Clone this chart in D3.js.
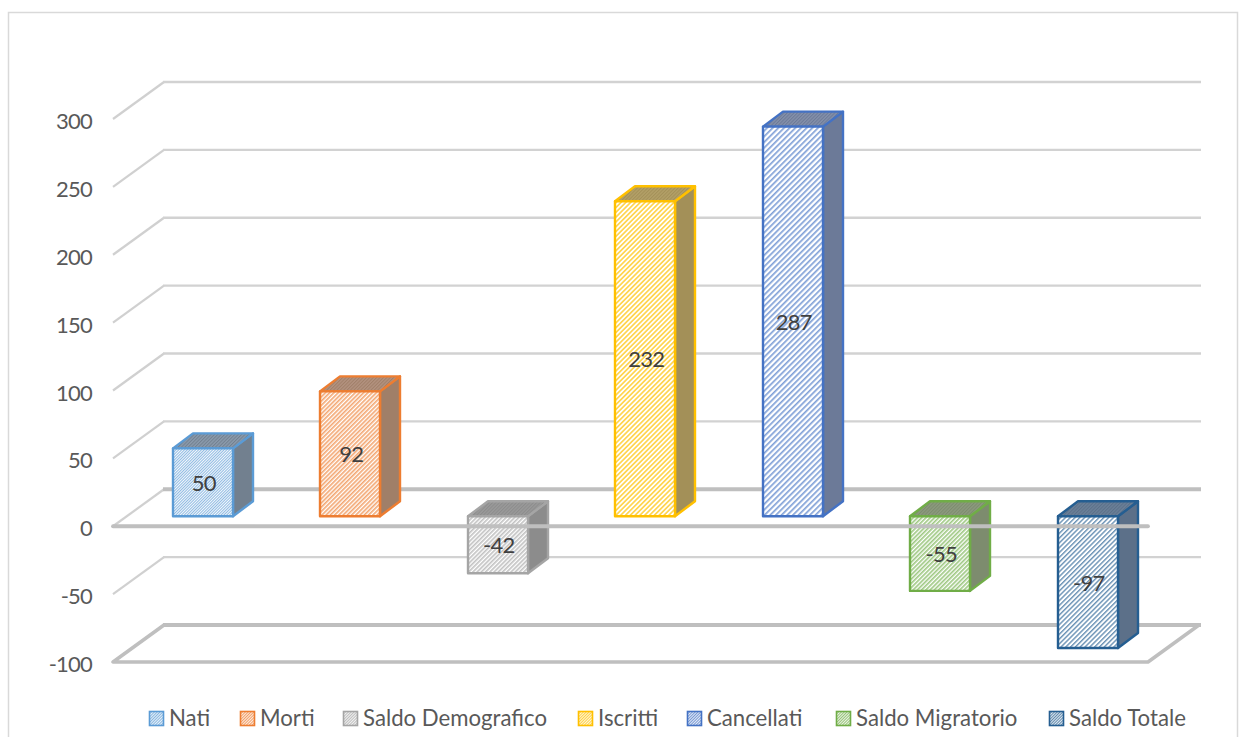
<!DOCTYPE html>
<html><head><meta charset="utf-8">
<script src="https://cdn.jsdelivr.net/npm/d3@7"></script>
<style>html,body{margin:0;padding:0;background:#fff;overflow:hidden}svg{display:block}text{font-family:Lato,"Noto Sans",sans-serif}</style>
</head><body><svg id="c" width="1248" height="737"></svg>
<script>
const categories=["Nati","Morti","Saldo Demografico","Iscritti","Cancellati","Saldo Migratorio","Saldo Totale"];
const values=[50,92,-42,232,287,-55,-97];
const colors=["#5b9bd5","#ed7d31","#a5a5a5","#ffc000","#4472c4","#70ad47","#255e91"];
const sideColors=["#72808f","#a07f68","#8c8c8c","#a39058","#6c7a98","#7d8c6e","#5c7089"];
const topColors=["#8b9bad","#b39280","#9a9a9a","#b3a068","#8490aa","#8c9a7e","#6a8098"];
const hatchPeriods=[2,3,3,3.4,4,3,3.4];
const hatchDuty=[.55,.55,.55,.5,.42,.55,.42];
const ticks=[-100,-50,0,50,100,150,200,250,300];
const legendX=[149,240,343,578,687,836,1049];

const svg=d3.select("#c");
const defs=svg.append("defs");
svg.append("rect").attr("x",8.5).attr("y",12.5).attr("width",1229).attr("height",740).attr("fill","#fff").attr("stroke","#d9d9d9").attr("stroke-width",1.5);

const yWall=d3.scaleLinear().domain([-100,300]).range([662,119]);
const wallDx=51,wallDy=-37;
const wallX0=113,frontX1=1148,backX1=1201;
const x=d3.scaleBand().domain(categories).range([129,1161.5]);
const barW=60,barDx=20,barDy=-15,barPlane=-10;
const yBar=v=>yWall(v)+barPlane;

colors.forEach((c,i)=>{
  const P=hatchPeriods[i];
  const p=defs.append("pattern").attr("id","h"+i).attr("width",P).attr("height",P).attr("patternUnits","userSpaceOnUse").attr("patternTransform","rotate(45)");
  p.append("rect").attr("width",P).attr("height",P).attr("fill","#fff");
  p.append("rect").attr("width",P*hatchDuty[i]).attr("height",P).attr("fill",c).attr("opacity",.68);
  const s=defs.append("pattern").attr("id","s"+i).attr("width",3).attr("height",3).attr("patternUnits","userSpaceOnUse").attr("patternTransform","rotate(45)");
  s.append("rect").attr("width",3).attr("height",3).attr("fill",sideColors[i]);
  s.append("rect").attr("width",1).attr("height",3).attr("fill",sideColors[i]).attr("opacity",.8);
  const t=defs.append("pattern").attr("id","t"+i).attr("width",2.4).attr("height",2.4).attr("patternUnits","userSpaceOnUse").attr("patternTransform","rotate(45)");
  t.append("rect").attr("width",2.4).attr("height",2.4).attr("fill",topColors[i]);
  t.append("rect").attr("width",1).attr("height",2.4).attr("fill",sideColors[i]);
  const l=defs.append("pattern").attr("id","l"+i).attr("width",2).attr("height",2).attr("patternUnits","userSpaceOnUse").attr("patternTransform","rotate(45)");
  l.append("rect").attr("width",2).attr("height",2).attr("fill","#fff");
  l.append("rect").attr("width",1.2).attr("height",2).attr("fill",c).attr("opacity",.72);
});

const grid=svg.append("g");
ticks.forEach(t=>{
  const y=yWall(t);
  const major=t===0||t===-100;
  grid.append("line").attr("x1",wallX0).attr("y1",y).attr("x2",wallX0+wallDx).attr("y2",y+wallDy)
    .attr("stroke","#d0d0d0").attr("stroke-width",2.2);
  grid.append("line").attr("x1",wallX0+wallDx-1).attr("y1",y+wallDy).attr("x2",backX1).attr("y2",y+wallDy)
    .attr("stroke",major?"#bfbfbf":"#d2d2d2").attr("stroke-width",major?3.8:2.4);
});
const yF=yWall(-100);
grid.append("polygon").attr("points",[[wallX0,yF],[frontX1,yF],[frontX1+wallDx,yF+wallDy],[wallX0+wallDx,yF+wallDy]].join(" "))
  .attr("fill","none").attr("stroke","#bfbfbf").attr("stroke-width",3.5).attr("stroke-linejoin","round");

svg.append("g").selectAll("text").data(ticks).join("text")
  .attr("x",92).attr("y",d=>yWall(d)+10).attr("text-anchor","end").attr("font-size",22).attr("letter-spacing",-0.8).attr("fill","#595959").text(d=>d);

const bars=svg.append("g").selectAll("g").data(categories).join("g");
bars.each(function(cat,i){
  const g=d3.select(this);
  const v=values[i];
  const x0=Math.round(x(cat)+(x.bandwidth()-barW)/2);
  const yT=Math.min(yBar(v),yBar(0)), yB=Math.max(yBar(v),yBar(0));
  const c=colors[i];
  g.append("polygon").attr("points",[[x0+barW,yT],[x0+barW+barDx,yT+barDy],[x0+barW+barDx,yB+barDy],[x0+barW,yB]].join(" "))
    .attr("fill",`url(#s${i})`).attr("stroke",c).attr("stroke-width",2.4).attr("stroke-linejoin","round");
  g.append("polygon").attr("points",[[x0,yT],[x0+barDx,yT+barDy],[x0+barW+barDx,yT+barDy],[x0+barW,yT]].join(" "))
    .attr("fill",`url(#t${i})`).attr("stroke",c).attr("stroke-width",2.4).attr("stroke-linejoin","round");
  g.append("rect").attr("x",x0).attr("y",yT).attr("width",barW).attr("height",yB-yT)
    .attr("fill",`url(#h${i})`).attr("stroke",c).attr("stroke-width",2.4).attr("stroke-linejoin","round");
});

const y0=yWall(0);
svg.append("line").attr("x1",wallX0).attr("y1",y0).attr("x2",frontX1).attr("y2",y0).attr("stroke","#bfbfbf").attr("stroke-width",3.8).attr("stroke-linecap","round");

svg.append("g").selectAll("text").data(categories).join("text")
  .attr("x",d=>x(d)+x.bandwidth()/2+1).attr("y",(d,i)=>(yBar(values[i])+yBar(0))/2+8.5)
  .attr("text-anchor","middle").attr("font-size",22).attr("letter-spacing",-0.8).attr("fill","#404040").text((d,i)=>values[i]);

const leg=svg.append("g").selectAll("g").data(categories).join("g").attr("transform",(d,i)=>`translate(${legendX[i]},711)`);
leg.append("rect").attr("x",.5).attr("y",.5).attr("width",14).attr("height",14)
  .attr("fill",(d,i)=>`url(#l${i})`).attr("stroke",(d,i)=>colors[i]).attr("stroke-width",1.6);
leg.append("text").attr("x",20).attr("y",14.5).attr("font-size",22.2).attr("fill","#595959").text(d=>d);
</script></body></html>
